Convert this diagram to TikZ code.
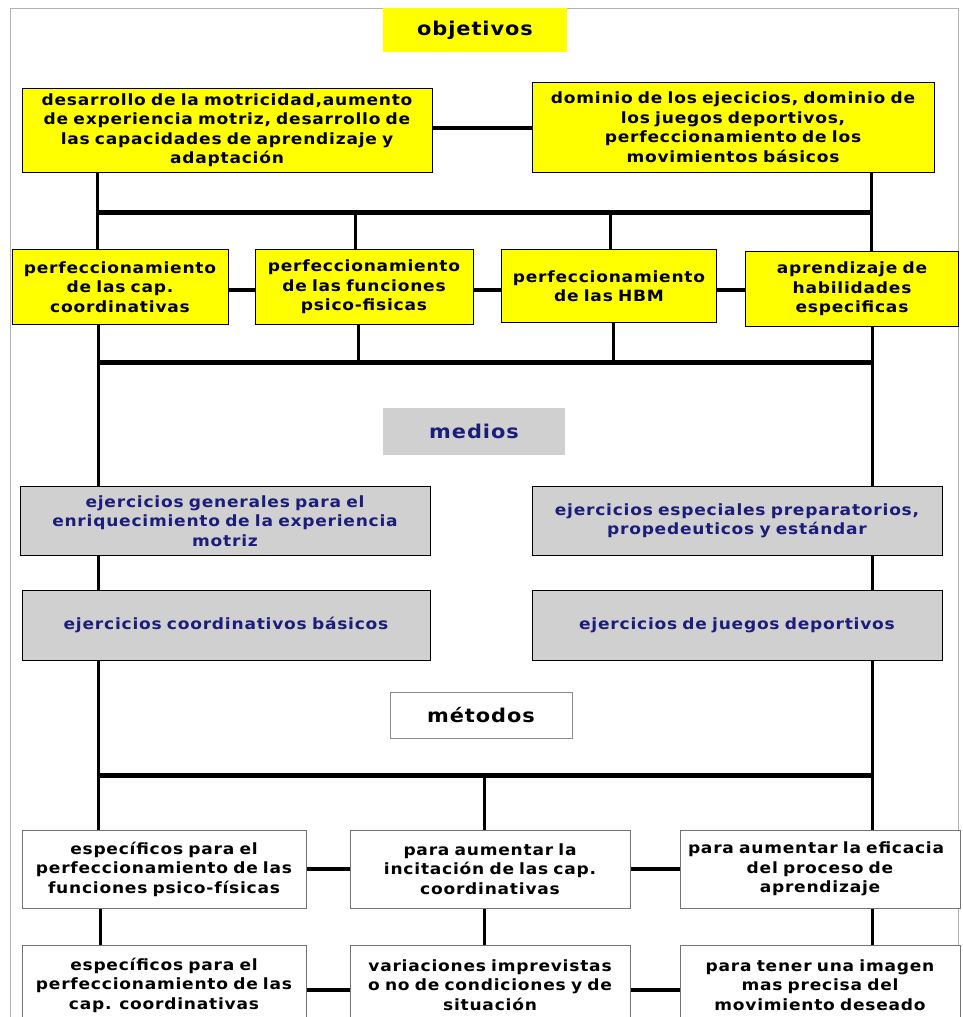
\documentclass[tikz,border=0pt]{standalone}
\usepackage{fontspec}
\setmainfont{DejaVu Sans}
\newfontfamily\ancha[FakeStretch=1.1, LetterSpace=5]{DejaVu Sans}
\usepackage{xcolor}
\definecolor{amarillo}{RGB}{255,255,0}
\definecolor{gris}{RGB}{208,208,208}
\definecolor{azul}{RGB}{28,28,122}

\begin{document}
\begin{tikzpicture}[x=1pt, y=-1pt,
  caja/.style={draw=black, line width=1pt, align=center, inner sep=0pt, font=\ancha\bfseries\fontsize{15.5}{19.5}\selectfont},
  amar/.style={caja, fill=amarillo},
  grisbox/.style={caja, fill=gris, text=azul},
  blanca/.style={caja, draw=black!55, fill=white},
  titulo/.style={align=center, inner sep=0pt, font=\ancha\bfseries\fontsize{19}{20}\selectfont},
  linea/.style={line width=3pt},
  hlinea/.style={line width=4pt},
  bus/.style={line width=5pt}]
\useasboundingbox (0,0) rectangle (963,1017);
\clip (0,0) rectangle (963,1017);
\draw[gray!60, line width=1pt] (10,8) rectangle (958,1040);

% objetivos
\node[titulo, fill=amarillo, minimum width=184, minimum height=44] (obj) at (475,30) {objetivos};
\node[amar, minimum width=410, text width=410, minimum height=84] (A) at (227,130)
  {desarrollo de la motricidad,aumento\\de experiencia motriz, desarrollo de\\las capacidades de aprendizaje y\\adaptación};
\node[amar, minimum width=402, text width=402, minimum height=90] (B) at (733,127)
  {dominio de los ejecicios, dominio de\\los juegos deportivos,\\perfeccionamiento de los\\movimientos básicos};
\node[amar, minimum width=216, text width=216, minimum height=75] (C1) at (120,287)
  {perfeccionamiento\\de las cap.\\coordinativas};
\node[amar, minimum width=218, text width=218, minimum height=75] (C2) at (364,287)
  {perfeccionamiento\\de las funciones\\psico-fisicas};
\node[amar, minimum width=215, text width=215, minimum height=73] (C3) at (609,286)
  {perfeccionamiento\\de las HBM};
\node[amar, minimum width=213, text width=213, minimum height=75] (C4) at (852,289)
  {aprendizaje de\\habilidades\\especificas};

% medios
\node[titulo, fill=gris, text=azul, minimum width=182, minimum height=47] (med) at (474,431) {medios};
\node[grisbox, minimum width=410, text width=410, minimum height=69] (D1) at (225,521)
  {ejercicios generales para el\\enriquecimiento de la experiencia\\motriz};
\node[grisbox, minimum width=410, text width=410, minimum height=69] (D2) at (737,521)
  {ejercicios especiales preparatorios,\\propedeuticos y estándar};
\node[grisbox, minimum width=408, text width=408, minimum height=70] (D3) at (226,625)
  {ejercicios coordinativos básicos};
\node[grisbox, minimum width=410, text width=410, minimum height=70] (D4) at (737,625)
  {ejercicios de juegos deportivos};

% metodos
\node[titulo, draw=black!45, line width=1pt, minimum width=182, minimum height=46] (met) at (481,715) {métodos};
\node[blanca, minimum width=284, text width=284, minimum height=78] (E1) at (164,869)
  {específicos para el\\perfeccionamiento de las\\funciones psico-físicas};
\node[blanca, minimum width=280, text width=280, minimum height=78] (E2) at (490,869)
  {para aumentar la\\incitación de las cap.\\coordinativas};
\node[blanca, minimum width=280, text width=280, minimum height=78] (E3) at (820,869)
  {\makebox[264pt][l]{para aumentar la eficacia}\\del proceso de\\aprendizaje};
\node[blanca, minimum width=284, text width=284, minimum height=80] (F1) at (164,985)
  {específicos para el\\perfeccionamiento de las\\cap. coordinativas};
\node[blanca, minimum width=280, text width=280, minimum height=80] (F2) at (490,985)
  {variaciones imprevistas\\o no de condiciones y de\\situación};
\node[blanca, minimum width=280, text width=280, minimum height=80] (F3) at (820,985)
  {para tener una imagen\\mas precisa del\\movimiento deseado};

% conexiones
\coordinate (b1L) at (97,212);  \coordinate (b1R) at (871,212);
\coordinate (b1a) at (355,212); \coordinate (b1b) at (610,212);
\coordinate (b2L) at (98,362);  \coordinate (b2R) at (872,362);
\coordinate (b2a) at (358,362); \coordinate (b2b) at (613,362);
\coordinate (b3L) at (98,775);  \coordinate (b3R) at (872,775);
\coordinate (b3c) at (484,775);

\draw[hlinea] (A.east |- 0,128) -- (B.west |- 0,128);
\draw[linea] (A.south -| b1L) -- (b1L);
\draw[linea] (B.south -| b1R) -- (b1R);
\draw[bus] (b1L) -- (b1R);
\draw[linea] (b1L) -- (C1.north -| b1L);
\draw[linea] (b1a) -- (C2.north -| b1a);
\draw[linea] (b1b) -- (C3.north -| b1b);
\draw[linea] (b1R) -- (C4.north -| b1R);
\draw[hlinea] (C1.east |- 0,290) -- (C2.west |- 0,290);
\draw[hlinea] (C2.east |- 0,290) -- (C3.west |- 0,290);
\draw[hlinea] (C3.east |- 0,290) -- (C4.west |- 0,290);
\draw[linea] (C1.south -| b2L) -- (b2L);
\draw[linea] (C2.south -| b2a) -- (b2a);
\draw[linea] (C3.south -| b2b) -- (b2b);
\draw[linea] (C4.south -| b2R) -- (b2R);
\draw[bus] (b2L) -- (b2R);
\draw[linea] (b2L) -- (D1.north -| b2L);
\draw[linea] (b2R) -- (D2.north -| b2R);
\draw[linea] (D1.south -| b2L) -- (D3.north -| b2L);
\draw[linea] (D2.south -| b2R) -- (D4.north -| b2R);
\draw[linea] (D3.south -| b3L) -- (b3L);
\draw[linea] (D4.south -| b3R) -- (b3R);
\draw[bus] (b3L) -- (b3R);
\draw[linea] (b3L) -- (E1.north -| b3L);
\draw[linea] (b3c) -- (E2.north -| b3c);
\draw[linea] (b3R) -- (E3.north -| b3R);
\draw[hlinea] (E1.east) -- (E2.west);
\draw[hlinea] (E2.east) -- (E3.west);
\draw[linea] (E1.south -| 100,0) -- (F1.north -| 100,0);
\draw[linea] (E2.south -| b3c) -- (F2.north -| b3c);
\draw[linea] (E3.south -| b3R) -- (F3.north -| b3R);
\draw[hlinea] (F1.east |- 0,990) -- (F2.west |- 0,990);
\draw[hlinea] (F2.east |- 0,990) -- (F3.west |- 0,990);
\end{tikzpicture}
\end{document}
